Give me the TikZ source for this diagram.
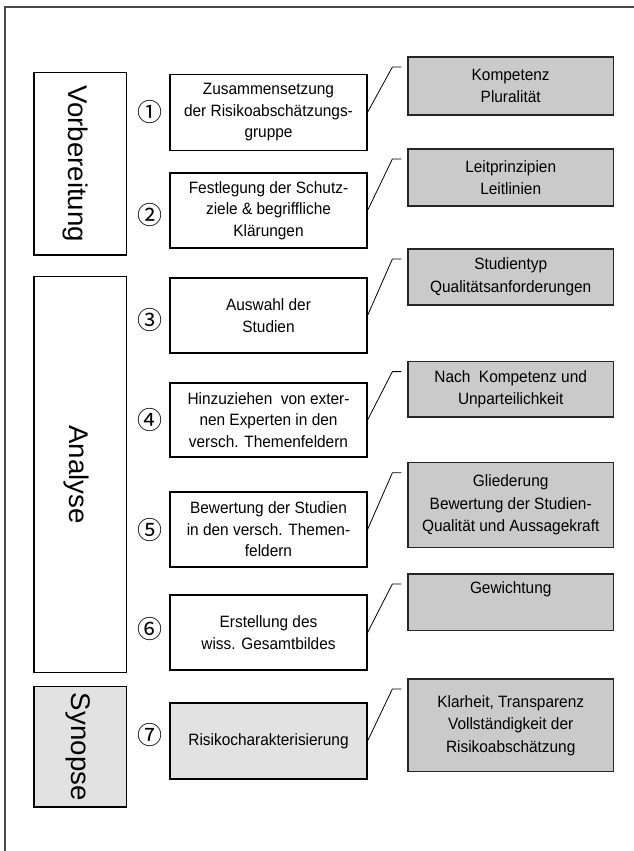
\documentclass[tikz,border=0pt]{standalone}
\usepackage{fontspec}
\setmainfont{Liberation Sans}[FakeStretch=0.94]
\newfontfamily\circfont{Noto Sans CJK JP}
\usetikzlibrary{calc}
\definecolor{boxgrey}{HTML}{CACACA}
\definecolor{lightgrey}{HTML}{E2E2E2}
\definecolor{framegrey}{HTML}{4A4A4A}
\newcommand{\vlab}[2]{\rotatebox{-90}{\raisebox{#1}[\height][\depth]{\scalebox{1.09}[1]{#2}}}}
\begin{document}
\begin{tikzpicture}[x=1pt,y=1pt,
  phase/.style={draw=black, line width=1.2pt, minimum width=92.7pt, inner sep=0pt,
    font=\fontsize{27}{29}\selectfont},
  stepbox/.style={draw=black, line width=1.1pt, minimum width=197pt, minimum height=75pt,
    align=center, inner sep=0pt, font=\fontsize{16.4}{21.5}\selectfont},
  notebox/.style={draw=black!85, line width=1.1pt, fill=boxgrey, minimum width=205.5pt,
    align=center, inner sep=0pt, font=\fontsize{16.4}{22.5}\selectfont},
  num/.style={font=\circfont\fontsize{25}{25}\selectfont, inner sep=0pt},
  callout/.style={draw=black, line width=0.8pt}]
\useasboundingbox (0,0) rectangle (634,-851);
% outer frame (only top and left edge visible)
\draw[framegrey, line width=1.8pt] (5,-870) -- (5,-7) -- (660,-7);

% phases
\node[phase, minimum height=182.5pt] (vorb) at (80.3,-163.7) {\vlab{-5pt}{Vorbereitung}};
\node[phase, minimum height=396pt] (ana) at (80.3,-474.7) {\vlab{-4pt}{Analyse}};
\node[phase, minimum height=120.3pt, fill=lightgrey] (syn) at (80.3,-746.8) {\vlab{-2pt}{Synopse}};

% numbers
\node[num] (n1) at (150,-112) {①};
\node[num] (n2) at (150,-215) {②};
\node[num] (n3) at (150,-320) {③};
\node[num] (n4) at (150,-420) {④};
\node[num] (n5) at (150,-530) {⑤};
\node[num] (n6) at (150,-629) {⑥};
\node[num] (n7) at (150,-735) {⑦};

% steps
\node[stepbox, minimum height=75.5pt] (b1) at (268.5,-112.3) {Zusammensetzung\\der Risikoabschätzungs-\\gruppe};
\node[stepbox] (b2) at (268.5,-210.5) {Festlegung der Schutz-\\ziele \& begriffliche\\Klärungen};
\node[stepbox] (b3) at (268.5,-315.5) {Auswahl der\\Studien};
\node[stepbox, minimum height=74pt] (b4) at (268.5,-420) {Hinzuziehen\ \ von exter-\\nen Experten in den\\versch. Themenfeldern};
\node[stepbox] (b5) at (268.5,-529.5) {Bewertung der Studien\\in den versch. Themen-\\feldern};
\node[stepbox] (b6) at (268.5,-632.5) {Erstellung des\\wiss. Gesamtbildes};
\node[stepbox, minimum height=76pt, fill=lightgrey] (b7) at (268.5,-741) {Risikocharakterisierung};

% notes
\node[notebox, minimum height=58pt] (g1) at (510.7,-86) {Kompetenz\\Pluralität};
\node[notebox, minimum height=57pt] (g2) at (510.7,-177.5) {Leitprinzipien\\Leitlinien};
\node[notebox, minimum height=56pt] (g3) at (510.7,-277) {Studientyp\\Qualitätsanforderungen};
\node[notebox, minimum height=55.3pt] (g4) at (510.7,-389.3) {Nach\ \ Kompetenz und\\Unparteilichkeit};
\node[notebox, minimum height=84.3pt] (g5) at (510.7,-504.9) {Gliederung\\Bewertung der Studien-\\Qualität und Aussagekraft};
\node[notebox, minimum height=56.7pt] (g6) at (510.7,-602.3) {Gewichtung\\\strut};
\node[notebox, minimum height=92.7pt] (g7) at (510.7,-725.3) {Klarheit, Transparenz\\Vollständigkeit der\\Risikoabschätzung};

% callout connectors
\foreach \i in {1,...,7}{
  \draw[callout] (b\i.east) -- ($(g\i.north west)+(-15,-10.5)$) -- ($(g\i.north west)+(-6,-10.5)$);
}
\end{tikzpicture}
\end{document}
